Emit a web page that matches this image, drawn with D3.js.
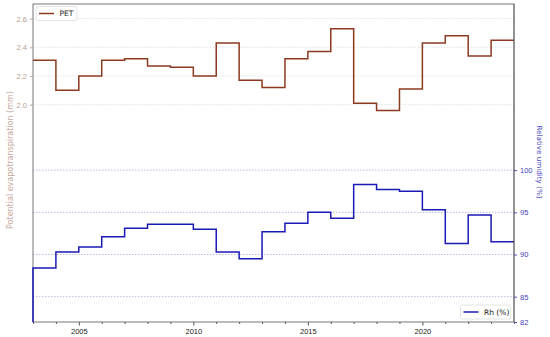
<!DOCTYPE html>
<html>
<head>
<meta charset="utf-8">
<script src="https://cdn.jsdelivr.net/npm/d3@7"></script>
<style>
  body { margin: 0; background: #fff; }
  svg { font-family: "DejaVu Sans", sans-serif; }
</style>
</head>
<body>
<svg id="chart"></svg>
<script>
// yearly values, each one held for one year (step chart)
const years = d3.range(2003, 2024);
const petValues = [2.31, 2.10, 2.20, 2.31, 2.32, 2.27, 2.26, 2.20, 2.43, 2.17, 2.12,
                   2.32, 2.37, 2.53, 2.01, 1.96, 2.11, 2.43, 2.48, 2.34, 2.45];
const rhValues = [88.4, 90.3, 90.9, 92.1, 93.1, 93.6, 93.6, 93.0, 90.3, 89.5, 92.7,
                  93.7, 95.0, 94.3, 98.3, 97.7, 97.5, 95.3, 91.3, 94.7, 91.5];
const xTicks = [2005, 2010, 2015, 2020];
const petTicks = [2.0, 2.2, 2.4, 2.6];
const rhTicks = [82, 85, 90, 95, 100];

const width = 550, height = 337;
const margin = {top: 4, right: 36, bottom: 15, left: 33};
const petColor = '#8b3a1f', rhColor = '#1a1ab4';

const svg = d3.select('#chart').attr('width', width).attr('height', height);

const x = d3.scaleLinear().domain([2003, 2024]).range([margin.left, width - margin.right]);
const yPet = d3.scaleLinear().domain([0.484, 2.702]).range([height - margin.bottom, margin.top]);
const yRh = d3.scaleLinear().domain([82, 119.7]).range([height - margin.bottom, margin.top]);

// grid lines
svg.append('g')
  .selectAll('line')
  .data(petTicks)
  .join('line')
    .attr('x1', margin.left).attr('x2', width - margin.right)
    .attr('y1', d => yPet(d)).attr('y2', d => yPet(d))
    .attr('stroke', '#dcdcdc').attr('stroke-width', 0.8).attr('stroke-dasharray', '1.5,1.5');

svg.append('g')
  .selectAll('line')
  .data(rhTicks.filter(d => d > 82))
  .join('line')
    .attr('x1', margin.left).attr('x2', width - margin.right)
    .attr('y1', d => yRh(d)).attr('y2', d => yRh(d))
    .attr('stroke', '#a8a8e0').attr('stroke-width', 0.8).attr('stroke-dasharray', '1.5,1.5');

// step lines: post style, last value extended to the end
function stepPoints(values) {
  const pts = values.map((v, i) => [years[i], v]);
  pts.push([years[years.length - 1] + 1, values[values.length - 1]]);
  return pts;
}

const petLine = d3.line().x(d => x(d[0])).y(d => yPet(d[1])).curve(d3.curveStepAfter);
const rhLine = d3.line().x(d => x(d[0])).y(d => yRh(d[1])).curve(d3.curveStepAfter);

svg.append('path')
  .attr('d', petLine(stepPoints(petValues)))
  .attr('fill', 'none').attr('stroke', petColor).attr('stroke-width', 1.5);

// frame (drawn before Rh so the left Rh edge stays visible)
svg.append('rect')
  .attr('x', margin.left).attr('y', margin.top)
  .attr('width', width - margin.left - margin.right)
  .attr('height', height - margin.top - margin.bottom)
  .attr('fill', 'none').attr('stroke', '#555').attr('stroke-width', 0.8);

// Rh line rises from the bottom edge on the left
svg.append('path')
  .attr('d', `M${x(2003)},${yRh(82)}` + rhLine(stepPoints(rhValues)).replace(/^M/, 'L'))
  .attr('fill', 'none').attr('stroke', rhColor).attr('stroke-width', 1.5);

// right spine on top of the Rh line
svg.append('line')
  .attr('x1', width - margin.right).attr('x2', width - margin.right)
  .attr('y1', margin.top).attr('y2', height - margin.bottom)
  .attr('stroke', '#555').attr('stroke-width', 0.8);

// axes
const xAxis = svg.append('g')
  .attr('transform', `translate(0,${height - margin.bottom})`)
  .call(d3.axisBottom(x).tickValues(xTicks).tickFormat(d3.format('d')).tickSize(3.5));
svg.append('g')
  .attr('transform', `translate(0,${height - margin.bottom})`)
  .call(d3.axisBottom(x).tickValues(years.filter(d => !xTicks.includes(d)).concat([2024])).tickFormat('').tickSize(2))
  .call(g => g.select('.domain').remove())
  .call(g => g.selectAll('line').attr('stroke', '#555'));
xAxis.select('.domain').remove();
xAxis.selectAll('line').attr('stroke', '#555');
xAxis.selectAll('text').attr('fill', '#222').attr('font-size', 7.5).attr('dy', '0.75em');

const yAxisL = svg.append('g')
  .attr('transform', `translate(${margin.left},0)`)
  .call(d3.axisLeft(yPet).tickValues(petTicks).tickFormat(d3.format('.1f')).tickSize(3));
yAxisL.select('.domain').remove();
yAxisL.selectAll('line').attr('stroke', '#c0a898');
yAxisL.selectAll('text').attr('fill', '#b89c8c').attr('font-size', 7.5);

const yAxisR = svg.append('g')
  .attr('transform', `translate(${width - margin.right},0)`)
  .call(d3.axisRight(yRh).tickValues(rhTicks).tickSize(3));
yAxisR.select('.domain').remove();
yAxisR.selectAll('line').attr('stroke', '#5050c0');
yAxisR.selectAll('text').attr('fill', '#4040b8').attr('font-size', 7.5);

// axis titles
svg.append('text')
  .attr('transform', `translate(13,160) rotate(-90)`)
  .attr('text-anchor', 'middle')
  .attr('font-size', 8)
  .attr('fill', '#c8aa9c')
  .text('Potential evapotranspiration  (mm)');

svg.append('text')
  .attr('transform', `translate(537,162) rotate(90)`)
  .attr('text-anchor', 'middle')
  .attr('font-size', 7.2)
  .attr('fill', '#4848c0')
  .text('Relative umidity (%)');

// legends
function legend(xPos, yPos, w, color, label) {
  const g = svg.append('g').attr('transform', `translate(${xPos},${yPos})`);
  g.append('rect').attr('width', w).attr('height', 14).attr('rx', 2)
    .attr('fill', '#fff').attr('fill-opacity', 0.8).attr('stroke', '#ddd').attr('stroke-width', 0.8);
  g.append('line').attr('x1', 3).attr('x2', 18).attr('y1', 7).attr('y2', 7)
    .attr('stroke', color).attr('stroke-width', 1.5);
  g.append('text').attr('x', 23.5).attr('y', 7).attr('dy', '0.35em')
    .attr('font-size', 7.5).attr('fill', '#222').text(label);
}
legend(36, 6.5, 41, petColor, 'PET');
legend(460.5, 305, 50, rhColor, 'Rh (%)');
</script>
</body>
</html>
